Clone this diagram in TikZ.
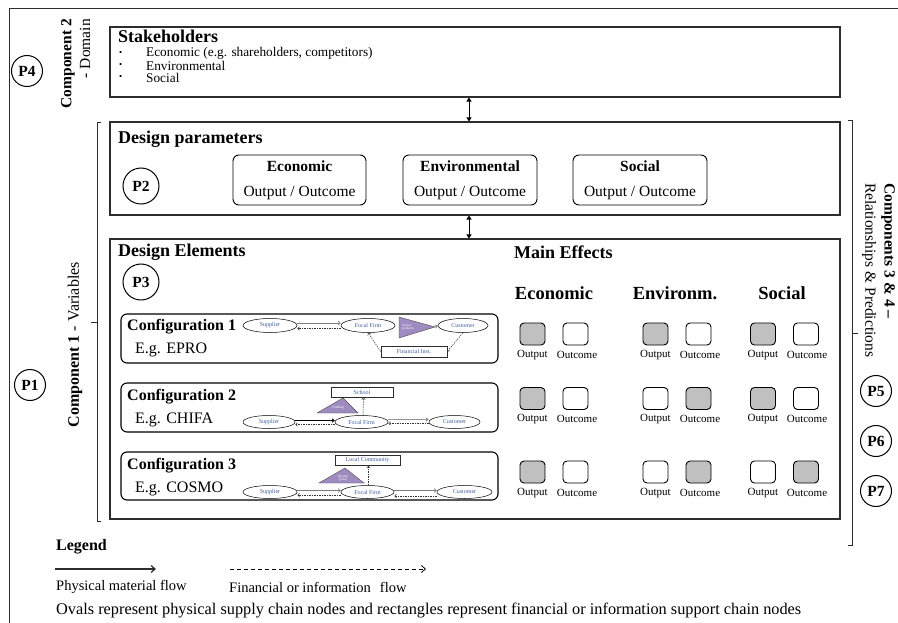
\documentclass[tikz,border=0pt]{standalone}
\usepackage{fontspec}
\setmainfont{Liberation Serif}
\usetikzlibrary{arrows.meta,shapes.geometric}
\definecolor{shade}{RGB}{192,192,192}
\definecolor{nblue}{RGB}{62,92,158}
\definecolor{tpurple}{RGB}{158,140,192}
\definecolor{ink}{RGB}{45,45,45}
\definecolor{flowgray}{RGB}{125,125,125}
\newcommand\myfs[1]{\fontsize{#1}{#1}\selectfont}
\begin{document}
\begin{tikzpicture}[x=1pt,y=-1pt,
  bigbox/.style={draw=ink, line width=1.1pt, inner sep=0},
  pc/.style={circle, draw=black, line width=1pt, minimum size=31pt, inner sep=0, font=\myfs{15.5}\bfseries},
  pcl/.style={pc, minimum size=36pt},
  lbl/.style={inner sep=0, anchor=west},
  dparbox/.style={draw=black, line width=0.9pt, rounded corners=6pt, minimum width=133pt, minimum height=50pt, align=center, inner sep=0, font=\fontsize{15.5}{25}\selectfont},
  cfgbox/.style={draw=black, line width=1.1pt, rounded corners=6pt, minimum width=377pt, inner sep=0},
  sq/.style={draw=black, line width=0.9pt, rounded corners=4pt, minimum width=25pt, minimum height=22pt, inner sep=0},
  sqlbl/.style={inner sep=0, font=\myfs{11}},
  ell/.style={ellipse, draw=black, line width=0.5pt, inner sep=0, minimum height=14pt, font=\myfs{6}, text=nblue},
  srect/.style={draw=ink, line width=0.6pt, inner sep=0, minimum height=10pt, font=\myfs{6}, text=nblue},
  tri/.style={fill=tpurple, draw=black!70, line width=0.4pt},
  trilbl/.style={inner sep=0, font=\myfs{3.5}, text=white, align=left},
  matflow/.style={draw=flowgray, line width=0.7pt, -{Straight Barb[length=2pt,width=3.5pt]}},
  heavyflow/.style={draw=flowgray!80, line width=1.1pt, -{Straight Barb[length=2pt,width=3.5pt]}},
  blackflow/.style={draw=black, line width=0.9pt, -{Straight Barb[length=2pt,width=3.5pt]}},
  infoflow/.style={draw=black!80, line width=0.5pt, dash pattern=on 1.5pt off 1pt, -{Straight Barb[length=2pt,width=3.5pt]}},
  dblarrow/.style={line width=1pt, {Triangle[length=4pt,width=5pt]}-{Triangle[length=4pt,width=5pt]}},
  brk/.style={draw=ink, line width=0.9pt},
  legmat/.style={draw=ink, line width=1.2pt, -{Straight Barb[length=4pt,width=7pt]}},
  leginfo/.style={draw=black, line width=0.8pt, dash pattern=on 4pt off 3pt, -{Straight Barb[length=4pt,width=7pt]}}
]
\useasboundingbox (0,0) rectangle (898,623);
% outer frame
\draw[brk] (898,8) -- (9,8) -- (9,623);

% main boxes
\node[bigbox, minimum width=730pt, minimum height=70pt] (stake) at (475,62) {};
\node[bigbox, minimum width=730pt, minimum height=93pt] (dp) at (475,168.5) {};
\node[bigbox, minimum width=730pt, minimum height=280pt] (de) at (475,379) {};
\draw[dblarrow] ([xshift=-6pt]stake.south) -- ([xshift=-6pt]dp.north);
\draw[dblarrow] ([xshift=-6pt]dp.south) -- ([xshift=-6pt]de.north);

% brackets
\draw[brk] (101,122) -- (97,122) -- (97,521) -- (101,521);
\draw[brk] (97,322) -- (91,322);
\draw[brk] (848,120) -- (852,120) -- (852,545) -- (848,545);
\draw[brk] (852,333) -- (858,333);

% side labels
\node[pc] (p4) at (27,71) {P4};
\node[rotate=90, anchor=east, inner sep=0, font=\myfs{15.5}\bfseries] (c2a) at (68,19) {Component 2};
\node[rotate=90, anchor=east, inner sep=0, font=\myfs{15.5}] (c2b) at (85,19) {- Domain};
\node[pc] (p1) at (30,385) {P1};
\node[rotate=90, anchor=east, inner sep=0, font=\myfs{16}] (c1) at (75,262) {\textbf{Component 1} - Variables};
\node[rotate=-90, anchor=west, inner sep=0, font=\myfs{15.5}\bfseries] (c34a) at (888,183) {Components 3 \& 4 –};
\node[rotate=-90, anchor=west, inner sep=0, font=\myfs{15.5}] (c34b) at (869,183) {Relationships \& Predictions};
\node[pc] (p5) at (876,391) {P5};
\node[pc] (p6) at (876,441) {P6};
\node[pc] (p7) at (876,491) {P7};

% stakeholders
\node[lbl, font=\myfs{18}\bfseries] (sth) at (118,36.5) {Stakeholders};
\node[lbl, font=\myfs{9}] (b1) at (119,53.5) {•};
\node[lbl, font=\myfs{9}] (b2) at (119,65.5) {•};
\node[lbl, font=\myfs{9}] (b3) at (119,77.5) {•};
\node[lbl, font=\myfs{13.3}] (t1) at (146,53.5) {Economic (e.g. shareholders, competitors)};
\node[lbl, font=\myfs{13.3}] (t2) at (146,65.5) {Environmental};
\node[lbl, font=\myfs{13.3}] (t3) at (146,77.5) {Social};

% design parameters
\node[lbl, font=\myfs{18}\bfseries] (dph) at (118,139) {Design parameters};
\node[pcl] (p2) at (141,186) {P2};
\node[dparbox] (dpe) at (299.5,180) {\textbf{Economic}\\Output / Outcome};
\node[dparbox, minimum width=134pt] (dpv) at (470,180) {\textbf{Environmental}\\Output / Outcome};
\node[dparbox, minimum width=134pt] (dps) at (640,180) {\textbf{Social}\\Output / Outcome};

% design elements
\node[lbl, font=\myfs{18}\bfseries] (deh) at (118,252) {Design Elements};
\node[pcl] (p3) at (141,282) {P3};
\node[lbl, font=\myfs{18}\bfseries] (meh) at (514,252) {Main Effects};
\node[inner sep=0, font=\myfs{18.5}\bfseries] (ceco) at (554,293) {Economic};
\node[inner sep=0, font=\myfs{18.5}\bfseries] (cenv) at (675,293) {Environm.};
\node[inner sep=0, font=\myfs{18.5}\bfseries] (csoc) at (782,293) {Social};

% configuration boxes
\node[cfgbox, minimum height=49pt] (cfg1) at (309.5,338.5) {};
\node[cfgbox, minimum height=49pt] (cfg2) at (309.5,407.5) {};
\node[cfgbox, minimum height=48pt] (cfg3) at (309.5,476) {};
\node[lbl, font=\myfs{16}\bfseries] (cf1) at (127,327) {Configuration 1};
\node[lbl, font=\myfs{16}] (eg1) at (135,350) {E.g. EPRO};
\node[lbl, font=\myfs{16}\bfseries] (cf2) at (127,397) {Configuration 2};
\node[lbl, font=\myfs{16}] (eg2) at (135,420) {E.g. CHIFA};
\node[lbl, font=\myfs{16}\bfseries] (cf3) at (127,466) {Configuration 3};
\node[lbl, font=\myfs{16}] (eg3) at (135,489) {E.g. COSMO};

% configuration 1 network
\node[ell, minimum width=54pt] (sup1) at (270,325.5) {Supplier};
\node[ell, minimum width=54pt] (foc1) at (368,325.5) {Focal Firm};
\node[ell, minimum width=50pt] (cus1) at (463,325.5) {Customer};
\node[srect, minimum width=66pt, minimum height=11pt] (fin1) at (414,351.5) {Financial Inst.};
\draw[tri] (399,317) -- (399,338) -- (435,327) -- cycle;
\coordinate (t1apex) at (435,327);
\node[trilbl] (t1l) at (408,327) {Social\\products};
\draw[matflow] ([yshift=2.5pt]sup1.east) -- ([yshift=2.5pt]foc1.west);
\draw[infoflow] ([yshift=-3pt]foc1.west) -- ([yshift=-3pt]sup1.east);
\draw[matflow] (t1apex) -- (cus1.west);
\draw[infoflow] (fin1.west) -- (foc1.south);
\draw[infoflow] (cus1.south) -- (fin1.east);

% configuration 2 network
\node[srect, minimum width=62pt] (sch) at (362,392) {School};
\draw[tri] (317,413) -- (358,413) -- (343,398) -- cycle;
\node[trilbl] (t2l) at (338,408) {Funding};
\node[ell, minimum width=52pt, minimum height=13pt] (sup2) at (269,422) {Supplier};
\node[ell, minimum width=53pt, minimum height=13pt] (foc2) at (361.5,422) {Focal Firm};
\node[ell, minimum width=51pt, minimum height=13pt] (cus2) at (454.5,422) {Customer};
\draw[blackflow] ([yshift=1.5pt]sup2.east) -- ([yshift=1.5pt]foc2.west);
\draw[infoflow] ([yshift=-2.5pt]foc2.west) -- ([yshift=-2.5pt]sup2.east);
\draw[heavyflow] ([yshift=2.5pt]foc2.east) -- ([yshift=2.5pt]cus2.west);
\draw[infoflow] ([yshift=-1.5pt]cus2.west) -- ([yshift=-1.5pt]foc2.east);
\draw[infoflow] ([xshift=1.5pt]foc2.north) -- ([xshift=1.5pt]sch.south);

% configuration 3 network
\node[srect, minimum width=65pt] (lc) at (367.5,460.5) {Local Community};
\draw[tri] (319,483) -- (364,483) -- (345,468) -- cycle;
\node[trilbl, align=center] (t3l) at (343,478) {Income\\(jobs)};
\node[ell, minimum width=54pt, minimum height=13pt] (sup3) at (270,492) {Supplier};
\node[ell, minimum width=53pt, minimum height=13pt] (foc3) at (367.5,492) {Focal Firm};
\node[ell, minimum width=55pt, minimum height=13pt] (cus3) at (464.5,492) {Customer};
\draw[matflow] ([yshift=1.5pt]sup3.east) -- ([yshift=1.5pt]foc3.west);
\draw[infoflow] ([yshift=-3pt]foc3.west) -- ([yshift=-3pt]sup3.east);
\draw[matflow] ([yshift=1.5pt]foc3.east) -- ([yshift=1.5pt]cus3.west);
\draw[infoflow] ([yshift=-4pt]cus3.west) -- ([yshift=-4pt]foc3.east);
\draw[infoflow] ([xshift=1pt]foc3.north) -- ([xshift=1pt]lc.south);

% output / outcome squares
\foreach \r/\y/\ly/\fa/\fb/\fc/\fd/\fe/\ff in {1/334/355/shade/white/shade/white/shade/white,
    2/398.5/419/shade/white/white/shade/shade/white,
    3/472/493/shade/white/white/shade/white/shade}{
  \node[sq, fill=\fa] (s\r a) at (532.5,\y) {};
  \node[sq, fill=\fb] (s\r b) at (575.5,\y) {};
  \node[sq, fill=\fc] (s\r c) at (655.5,\y) {};
  \node[sq, fill=\fd] (s\r d) at (698.5,\y) {};
  \node[sq, fill=\fe] (s\r e) at (763,\y) {};
  \node[sq, fill=\ff] (s\r f) at (806,\y) {};
  \node[sqlbl] (l\r a) at (532.5,\ly) {Output};
  \node[sqlbl] (l\r b) at (577,\ly) {Outcome};
  \node[sqlbl] (l\r c) at (655.5,\ly) {Output};
  \node[sqlbl] (l\r d) at (700,\ly) {Outcome};
  \node[sqlbl] (l\r e) at (763,\ly) {Output};
  \node[sqlbl] (l\r f) at (807,\ly) {Outcome};
}

% legend
\node[lbl, font=\myfs{16}\bfseries] (leg) at (56,547) {Legend};
\coordinate (m1) at (55,569);
\coordinate (m2) at (156,569);
\draw[legmat] (m1) -- (m2);
\coordinate (i1) at (230,569);
\coordinate (i2) at (426,569);
\draw[leginfo] (i1) -- (i2);
\node[lbl, font=\myfs{14.5}] (lm) at (56,587) {Physical material flow};
\node[lbl, font=\myfs{14.5}] (li) at (229,587) {Financial or information\hspace{9pt}flow};
\node[lbl, font=\myfs{16.3}] (ov) at (56,611) {Ovals represent physical supply chain nodes and rectangles represent financial or information support chain nodes};
\end{tikzpicture}
\end{document}
